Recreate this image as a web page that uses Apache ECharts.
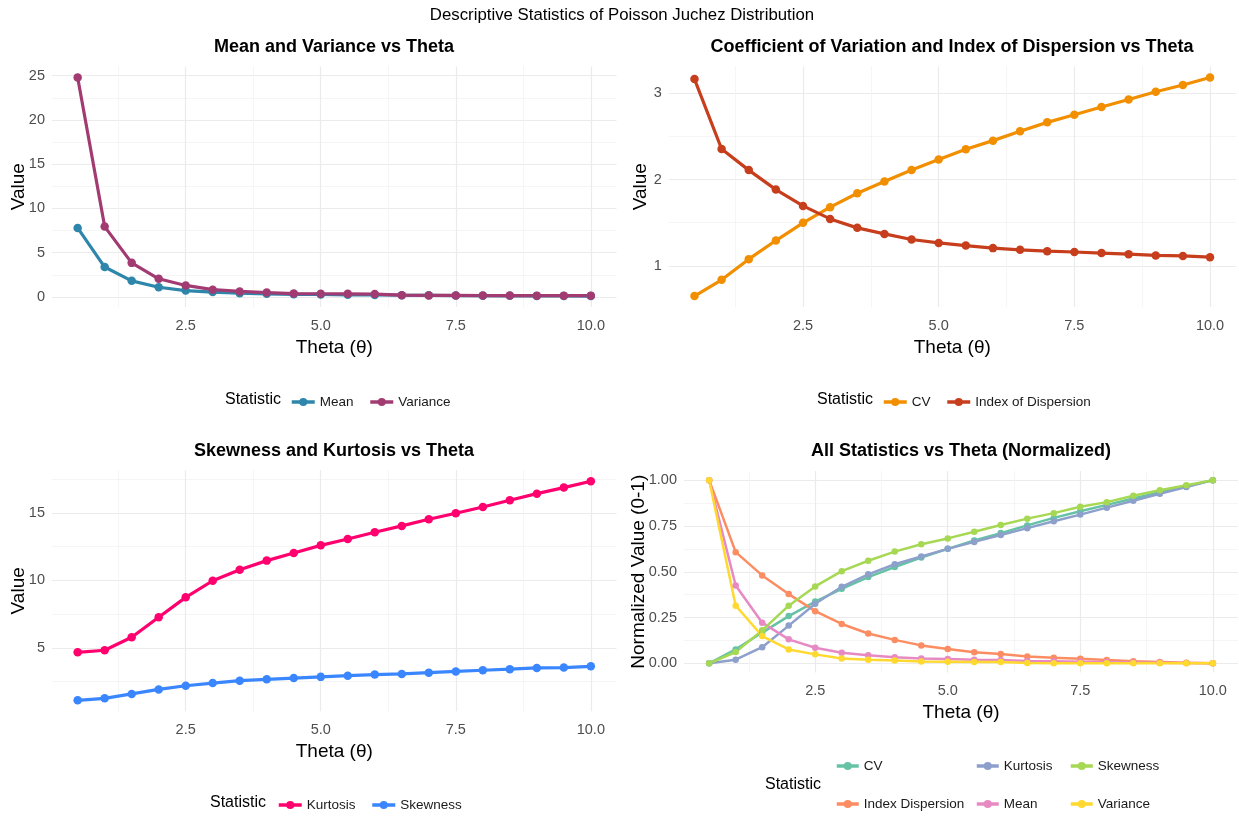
<!DOCTYPE html>
<html>
<head>
<meta charset="utf-8">
<script src="https://cdn.jsdelivr.net/npm/echarts@6/dist/echarts.min.js"></script>
<style>
html,body{margin:0;padding:0;background:#fff;}
#chart{width:1239px;height:816px;}
</style>
</head>
<body>
<div id="chart"></div>
<script>
// ---------- data ----------
const theta = [0.5,1,1.5,2,2.5,3,3.5,4,4.5,5,5.5,6,6.5,7,7.5,8,8.5,9,9.5,10];

const mean     = [7.8,3.38,1.82,1.1,0.72,0.55,0.42,0.35,0.3,0.28,0.24,0.23,0.2,0.18,0.16,0.15,0.13,0.12,0.11,0.1];
const variance = [24.8,7.95,3.85,2.05,1.3,0.82,0.62,0.5,0.38,0.36,0.35,0.33,0.2,0.17,0.17,0.16,0.16,0.15,0.15,0.15];

const cv        = [0.649,0.838,1.077,1.293,1.498,1.68,1.842,1.977,2.112,2.232,2.351,2.452,2.56,2.664,2.753,2.842,2.93,3.019,3.097,3.185];
const indexDisp = [3.166,2.355,2.11,1.884,1.695,1.544,1.44,1.37,1.305,1.265,1.235,1.205,1.185,1.17,1.16,1.148,1.135,1.12,1.115,1.1];

const kurtosis = [4.68,4.83,5.79,7.27,8.75,9.98,10.8,11.47,12.04,12.6,13.07,13.57,14.04,14.53,14.98,15.44,15.94,16.43,16.88,17.35];
const skewness = [1.12,1.27,1.6,1.93,2.2,2.4,2.58,2.68,2.77,2.86,2.95,3.03,3.08,3.17,3.26,3.35,3.43,3.52,3.55,3.64];

// normalized values
const cvNorm   = [0,0.076,0.168,0.258,0.337,0.407,0.471,0.526,0.578,0.625,0.671,0.711,0.753,0.794,0.83,0.865,0.9,0.934,0.965,1];
const idNorm   = [1,0.607,0.48,0.378,0.285,0.215,0.163,0.128,0.098,0.078,0.06,0.051,0.038,0.031,0.025,0.018,0.012,0.008,0.003,0];
const kurtNorm = [0,0.02,0.088,0.206,0.325,0.418,0.486,0.541,0.583,0.625,0.663,0.701,0.738,0.776,0.812,0.85,0.888,0.926,0.962,1];
const meanNorm = [1,0.425,0.222,0.131,0.085,0.058,0.044,0.033,0.026,0.024,0.019,0.018,0.013,0.011,0.009,0.007,0.005,0.003,0.002,0];
const skewNorm = [0,0.062,0.18,0.315,0.42,0.503,0.56,0.61,0.65,0.682,0.718,0.755,0.79,0.82,0.855,0.88,0.915,0.945,0.972,1];
const varNorm  = [1,0.315,0.149,0.076,0.049,0.027,0.02,0.015,0.01,0.009,0.008,0.007,0.002,0.001,0.001,0,0,0,0,0];

// tick values
const xTicks  = [2.5,5,7.5,10];
const xMinor  = [1.25,3.75,6.25,8.75];
const y1Ticks = [0,5,10,15,20,25];
const y1Minor = [2.5,7.5,12.5,17.5,22.5];
const y2Ticks = [1,2,3];
const y2Minor = [1.5,2.5];
const y3Ticks = [5,10,15];
const y3Minor = [2.5,7.5,12.5,17.5];
const y4Ticks = [0,0.25,0.5,0.75,1];
const y4Minor = [0.125,0.375,0.625,0.875];

// ---------- style ----------
const REG = "'Liberation Sans',Arial,Helvetica,sans-serif";
const MAJOR = {color:'#ebebeb', width:1.2};
const MINOR = {color:'#f2f2f2', width:0.8};

const grids = [
  {left:52,    top:66.5,  width:564.5, height:240.5},
  {left:668.7, top:66.5,  width:567.1, height:240.5},
  {left:52,    top:470.3, width:564.5, height:241},
  {left:684,   top:471,   width:554,   height:201.5}
];
const xRange = [0.025, 10.475];
const yRanges = [[-1.135,26.035],[0.522,3.312],[0.31,18.16],[-0.05,1.05]];
const yTickSets = [[y1Ticks,y1Minor,0],[y2Ticks,y2Minor,0],[y3Ticks,y3Minor,0],[y4Ticks,y4Minor,2]];
const yNames = ['Value','Value','Value','Normalized Value (0-1)'];
const yNameGaps = [24,18,24,36];

const xAxes = [], yAxes = [];
grids.forEach((g,i)=>{
  xAxes.push({
    type:'value', gridIndex:i, min:xRange[0], max:xRange[1],
    axisLine:{show:false}, axisTick:{show:false, customValues:xTicks},
    axisLabel:{customValues:xTicks, formatter:v=>Number(v).toFixed(1), color:'#4d4d4d', fontFamily:REG, fontSize:14.5, margin:11},
    splitLine:{show:true, lineStyle:MAJOR},
    name:'Theta (θ)', nameLocation:'middle', nameGap:31, nameMoveOverlap:false,
    nameTextStyle:{color:'#000', fontFamily:REG, fontSize:19}
  });
  xAxes.push({
    type:'value', gridIndex:i, min:xRange[0], max:xRange[1],
    axisLine:{show:false}, axisTick:{show:false, customValues:xMinor},
    axisLabel:{show:false}, splitLine:{show:true, lineStyle:MINOR}
  });
  const [maj,min,dec] = yTickSets[i];
  yAxes.push({
    type:'value', gridIndex:i, min:yRanges[i][0], max:yRanges[i][1],
    axisLine:{show:false}, axisTick:{show:false, customValues:maj},
    axisLabel:{customValues:maj, formatter:v=>Number(v).toFixed(dec), color:'#4d4d4d', fontFamily:REG, fontSize:14.5, margin:7},
    splitLine:{show:true, lineStyle:MAJOR},
    name:yNames[i], nameLocation:'middle', nameGap:yNameGaps[i], nameRotate:90, nameMoveOverlap:false,
    nameTextStyle:{color:'#000', fontFamily:REG, fontSize:19}
  });
  yAxes.push({
    type:'value', gridIndex:i, min:yRanges[i][0], max:yRanges[i][1],
    axisLine:{show:false}, axisTick:{show:false, customValues:min},
    axisLabel:{show:false}, splitLine:{show:true, lineStyle:MINOR}
  });
});

function pairs(vals){ return theta.map((t,k)=>[t, vals[k]]); }
function mkSeries(name, vals, color, panel, big){
  return {
    type:'line', name:name, data:pairs(vals),
    xAxisIndex:panel*2, yAxisIndex:panel*2,
    symbol:'circle', symbolSize: big ? 8.5 : 6.5,
    lineStyle:{color:color, width: big ? 3.2 : 2.5},
    itemStyle:{color:color},
    emphasis:{disabled:true}, animation:false
  };
}

const NORM = 'n:';
const series = [
  mkSeries('Mean', mean, '#2E86AB', 0, true),
  mkSeries('Variance', variance, '#A23B72', 0, true),
  mkSeries('CV', cv, '#F18F01', 1, true),
  mkSeries('Index of Dispersion', indexDisp, '#C73E1D', 1, true),
  mkSeries('Kurtosis', kurtosis, '#FF006E', 2, true),
  mkSeries('Skewness', skewness, '#3A86FF', 2, true),
  mkSeries(NORM+'CV', cvNorm, '#66C2A5', 3, false),
  mkSeries(NORM+'Index Dispersion', idNorm, '#FC8D62', 3, false),
  mkSeries(NORM+'Kurtosis', kurtNorm, '#8DA0CB', 3, false),
  mkSeries(NORM+'Mean', meanNorm, '#E78AC3', 3, false),
  mkSeries(NORM+'Skewness', skewNorm, '#A6D854', 3, false),
  mkSeries(NORM+'Variance', varNorm, '#FFD92F', 3, false)
];

function mkLegend(data, left, top, orient, gap, w){
  return {
    data:data, left:left, top:top, orient:orient||'horizontal', padding:0,
    itemWidth:w||23, itemHeight:10, itemGap:gap, selectedMode:false,
    lineStyle:{width:3.5},
    formatter:n=>n.replace(NORM,''),
    textStyle:{color:'#1a1a1a', fontFamily:REG, fontSize:13.5}
  };
}
const legends = [
  mkLegend(['Mean','Variance'], 290, 395, 'horizontal', 15),
  mkLegend(['CV','Index of Dispersion'], 882, 395, 'horizontal', 15),
  mkLegend(['Kurtosis','Skewness'], 277, 798, 'horizontal', 15),
  mkLegend([NORM+'CV', NORM+'Index Dispersion'], 835, 759, 'vertical', 24, 22),
  mkLegend([NORM+'Kurtosis', NORM+'Mean'], 975, 759, 'vertical', 24, 22),
  mkLegend([NORM+'Skewness', NORM+'Variance'], 1069, 759, 'vertical', 24, 22)
];

function mkTitle(text, x, top, bold, size, align){
  return {
    text:text, left:x, top:top, padding:0, textAlign:align||'center',
    textStyle:{color:'#000', fontFamily:REG, fontWeight:bold?'bold':'normal', fontSize:size}
  };
}
const titles = [
  mkTitle('Descriptive Statistics of Poisson Juchez Distribution', 622, 7, false, 16.8),
  mkTitle('Mean and Variance vs Theta', 334, 38, true, 18),
  mkTitle('Coefficient of Variation and Index of Dispersion vs Theta', 952, 38, true, 18),
  mkTitle('Skewness and Kurtosis vs Theta', 334, 442, true, 18),
  mkTitle('All Statistics vs Theta (Normalized)', 961, 442, true, 18),
  mkTitle('Statistic', 225, 392, false, 16, 'left'),
  mkTitle('Statistic', 817, 392, false, 16, 'left'),
  mkTitle('Statistic', 210, 795, false, 16, 'left'),
  mkTitle('Statistic', 765, 777, false, 16, 'left')
];

const chart = echarts.init(document.getElementById('chart'), null, {renderer:'canvas'});
chart.setOption({
  backgroundColor:'#ffffff',
  animation:false,
  title:titles,
  legend:legends,
  grid:grids.map(g=>Object.assign({outerBoundsMode:'none', containLabel:false}, g)),
  xAxis:xAxes,
  yAxis:yAxes,
  series:series
});
</script>
</body>
</html>
